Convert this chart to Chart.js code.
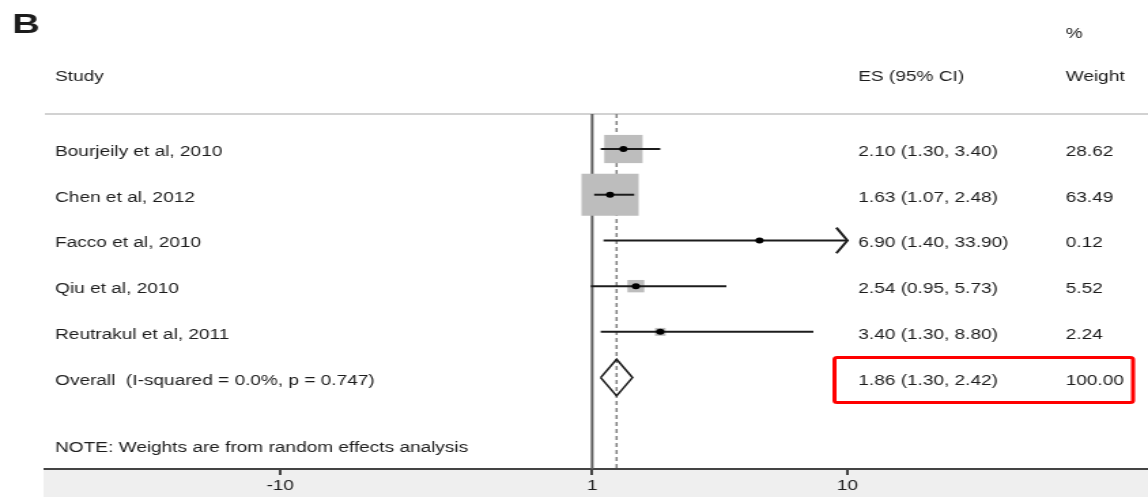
<!DOCTYPE html>
<html>
<head>
<meta charset="utf-8">
<script src="https://cdn.jsdelivr.net/npm/chart.js@4/dist/chart.umd.min.js"></script>
<style>
  html, body { margin: 0; padding: 0; background: #ffffff; }
</style>
</head>
<body>
<!-- the plot is rendered on a narrower canvas and widened, which gives the wide-set lettering and boxes -->
<canvas id="forest" width="844" height="497" style="display:block;width:1148px;height:497px"></canvas>
<script>
// ---- data ----
const studies  = ['Bourjeily et al, 2010', 'Chen et al, 2012', 'Facco et al, 2010', 'Qiu et al, 2010', 'Reutrakul et al, 2011'];
const effect   = [2.10, 1.63, 6.90, 2.54, 3.40];
const ciLow    = [1.30, 1.07, 1.40, 0.95, 1.30];
const ciHigh   = [3.40, 2.48, 33.90, 5.73, 8.80];
const weights  = [28.62, 63.49, 0.12, 5.52, 2.24];

const overallLabel  = 'Overall  (I-squared = 0.0%, p = 0.747)';
const overallEffect = 1.86;
const overallLow    = 1.30;
const overallHigh   = 2.42;
const overallWeight = 100.00;

const xTicks   = [-10, 1, 10];
const nullLine = 1;
const noteText = 'NOTE: Weights are from random effects analysis';

// ---- layout helpers ----
const X_MIN = -18.3, X_MAX = 20.6;
const Y_MIN = -0.766, Y_MAX = 7.0;
const clipAt = Math.max(...xTicks);
const overallRow = studies.length;
const maxW = Math.max(...weights);
const boxSide = w => 42 * Math.sqrt(w / maxW);     // box area proportional to weight
const fmt = v => v.toFixed(2);

const ink = '#1c1c1c';
const datasets = [];

// reference line at no effect, and dashed line at the pooled estimate
datasets.push({
  data: [{x: nullLine, y: Y_MIN}, {x: nullLine, y: Y_MAX}],
  showLine: true, borderColor: '#5e5e5e', borderWidth: 2, pointRadius: 0, order: 10
});
datasets.push({
  data: [{x: overallEffect, y: Y_MIN}, {x: overallEffect, y: Y_MAX}],
  showLine: true, borderColor: '#808080', borderWidth: 1.5, borderDash: [4, 3], pointRadius: 0, order: 9
});

// weight boxes
datasets.push({
  data: effect.map((v, i) => ({x: v, y: i})),
  pointStyle: 'rect',
  pointRadius: ctx => Math.max(0.6, boxSide(weights[ctx.dataIndex]) / Math.SQRT2),
  backgroundColor: '#bdbdbd', borderWidth: 0, order: 8
});

// confidence intervals (clipped at the last tick, with an arrow)
studies.forEach((s, i) => {
  const hi = Math.min(ciHigh[i], clipAt);
  datasets.push({
    data: [{x: ciLow[i], y: i}, {x: hi, y: i}],
    showLine: true, borderColor: ink, borderWidth: 2, pointRadius: 0, order: 7
  });
  if (ciHigh[i] > clipAt) {
    datasets.push({
      data: [{x: clipAt - 0.39, y: i - 0.28}, {x: clipAt, y: i}, {x: clipAt - 0.39, y: i + 0.28}],
      showLine: true, borderColor: ink, borderWidth: 2, pointRadius: 0, order: 7
    });
  }
});

// pooled estimate diamond
datasets.push({
  data: [
    {x: overallLow, y: overallRow},
    {x: overallEffect, y: overallRow - 0.4},
    {x: overallHigh, y: overallRow},
    {x: overallEffect, y: overallRow + 0.4},
    {x: overallLow, y: overallRow}
  ],
  showLine: true, borderColor: ink, borderWidth: 1.6, pointRadius: 0, order: 6
});

// point estimates
datasets.push({
  data: effect.map((v, i) => ({x: v, y: i})),
  pointStyle: 'circle', pointRadius: 3, backgroundColor: '#000', borderWidth: 0, order: 1
});

// ---- text and frame drawing ----
const frame = {
  id: 'frame',
  beforeDraw(chart) {
    const {ctx, chartArea: a} = chart;
    ctx.save();
    ctx.fillStyle = '#efefef';
    ctx.fillRect(a.left - 1, a.bottom, a.right - a.left + 1, chart.height - a.bottom);
    ctx.strokeStyle = '#d2d2d2';
    ctx.lineWidth = 2;
    ctx.beginPath();
    ctx.moveTo(a.left, a.top);
    ctx.lineTo(a.right, a.top);
    ctx.stroke();
    ctx.restore();
  },
  afterDraw(chart) {
    const {ctx} = chart;
    const y = chart.scales.y;
    const colStudy = 40.5, colES = 631, colW = 783.5;
    ctx.save();
    ctx.fillStyle = ink;
    ctx.textBaseline = 'alphabetic';
    ctx.textAlign = 'left';

    ctx.font = 'bold 28px "Liberation Sans", Arial, sans-serif';
    ctx.fillText('B', 9, 33);

    ctx.font = '14px "Liberation Sans", Arial, sans-serif';
    ctx.fillText('%', colW, 38);
    ctx.fillText('Study', colStudy, 81);
    ctx.fillText('ES (95% CI)', colES, 81);
    ctx.fillText('Weight', colW, 81);

    studies.forEach((s, i) => {
      const py = y.getPixelForValue(i) + 7;
      ctx.fillText(s, colStudy, py);
      ctx.fillText(`${fmt(effect[i])} (${fmt(ciLow[i])}, ${fmt(ciHigh[i])})`, colES, py);
      ctx.fillText(fmt(weights[i]), colW, py);
    });
    const oy = y.getPixelForValue(overallRow) + 7;
    ctx.fillText(overallLabel, colStudy, oy);
    ctx.fillText(`${fmt(overallEffect)} (${fmt(overallLow)}, ${fmt(overallHigh)})`, colES, oy);
    ctx.fillText(fmt(overallWeight), colW, oy);

    ctx.fillText(noteText, colStudy, y.getPixelForValue(overallRow + 1.5) + 6);

    // highlight around the pooled result
    ctx.strokeStyle = '#ff0000';
    ctx.lineWidth = 3;
    ctx.beginPath();
    const top = y.getPixelForValue(overallRow) - 20;
    ctx.roundRect(613.5, top, 219.5, 45, 2);
    ctx.stroke();
    ctx.restore();
  }
};

new Chart(document.getElementById('forest'), {
  type: 'scatter',
  data: {datasets},
  options: {
    responsive: false,
    animation: false,
    devicePixelRatio: 1,
    layout: {autoPadding: false, padding: {top: 114, left: 33, right: 0, bottom: 0}},
    plugins: {legend: {display: false}, tooltip: {enabled: false}},
    scales: {
      x: {
        type: 'linear', position: 'bottom', min: X_MIN, max: X_MAX,
        afterBuildTicks: s => { s.ticks = xTicks.map(v => ({value: v})); },
        afterFit: s => { s.height = 28; },
        grid: {drawOnChartArea: false, drawTicks: true, tickLength: 6, color: '#444', lineWidth: 2},
        border: {display: true, color: '#444', width: 2},
        ticks: {
          autoSkip: false, maxRotation: 0, padding: 3, color: ink,
          font: {family: '"Liberation Sans", Arial, sans-serif', size: 14},
          callback: v => String(v)
        }
      },
      y: {type: 'linear', reverse: true, min: Y_MIN, max: Y_MAX, display: false}
    }
  },
  plugins: [frame]
});
</script>
</body>
</html>
